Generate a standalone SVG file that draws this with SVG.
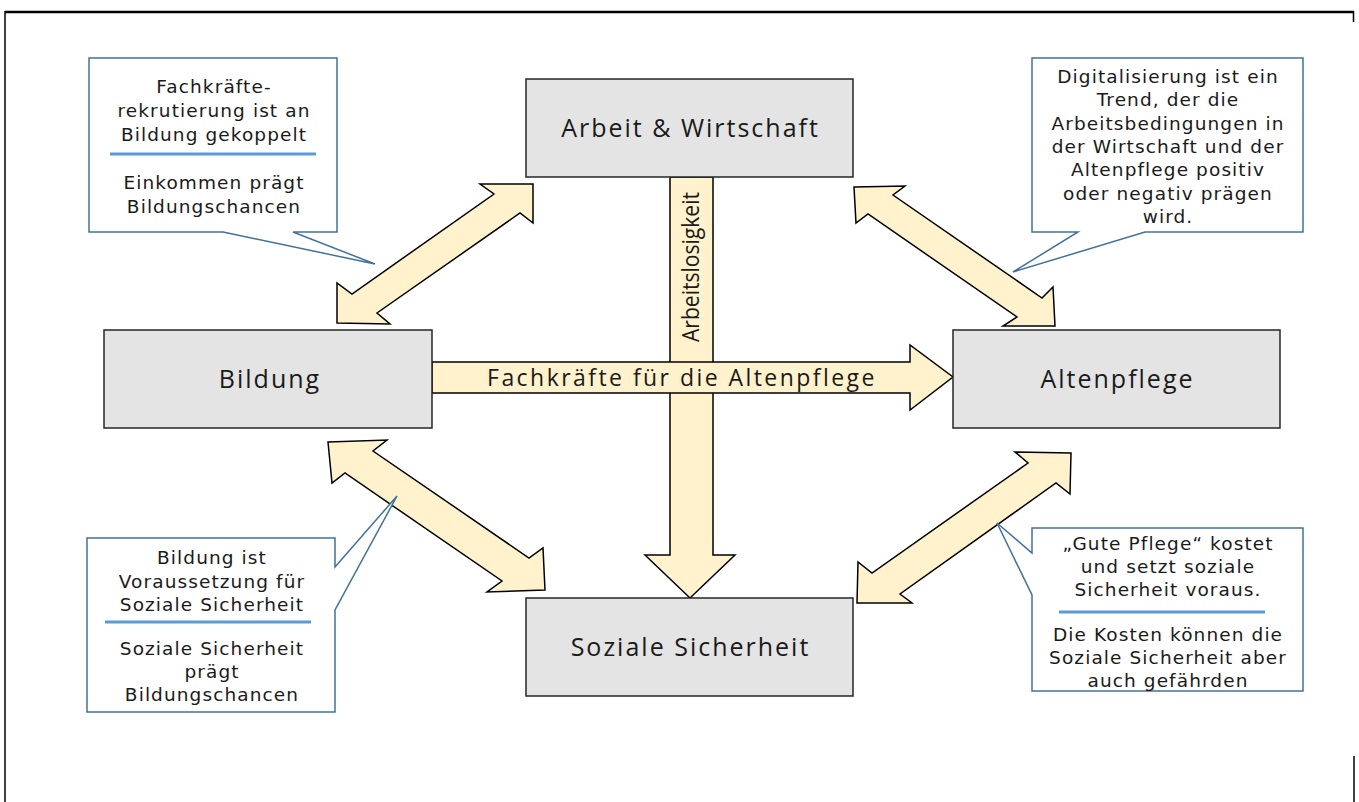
<svg xmlns="http://www.w3.org/2000/svg" width="1359" height="802" viewBox="0 0 1359 802">
<style>
.node rect{fill:#e4e4e4;stroke:#262626;stroke-width:1.5}
.node text{font-family:"Open Sans","Noto Sans",sans-serif;font-size:25px;letter-spacing:2px;fill:#1a1a1a;text-anchor:middle}
.arr{fill:#fff2cc;stroke:#000;stroke-width:1.5;stroke-linejoin:miter}
.lbl{font-family:"Open Sans","Noto Sans",sans-serif;fill:#1a1a1a;text-anchor:middle}
.call path{fill:#fff;stroke:#41719c;stroke-width:1.5}
.call text{font-family:"DejaVu Sans","Open Sans",sans-serif;font-size:18.5px;letter-spacing:1.1px;fill:#1a1a1a;text-anchor:middle}
.sep{stroke:#5b9bd5;stroke-width:3}
.frame{stroke:#000;fill:none}
</style>
<rect x="0" y="0" width="1359" height="802" fill="#fff"/>
<g id="frame">
<line class="frame" x1="5" y1="12" x2="1354" y2="12" stroke-width="2.3"/>
<line class="frame" x1="5" y1="11" x2="5" y2="802" stroke-width="1.5"/>
<line class="frame" x1="1353.5" y1="11" x2="1353.5" y2="22" stroke-width="1.5"/>
<line class="frame" x1="1354" y1="756" x2="1354" y2="802" stroke-width="1.5"/>
</g>
<g id="connectors">
<polygon id="arr-arbeitslosigkeit" class="arr" points="670,177 713,177 713,555 735,555 690,598 645,555 670,555"/>
<text class="lbl" font-size="24" transform="translate(699,267) rotate(-90)" textLength="150" lengthAdjust="spacingAndGlyphs">Arbeitslosigkeit</text>
<polygon id="arr-fachkraefte" class="arr" points="432,362 910,362 910,345 953,377 910,410 910,393 432,393"/>
<text class="lbl" font-size="23" letter-spacing="2.45" x="682" y="386">Fachkräfte für die Altenpflege</text>
<polygon id="arr-bildung-arbeit" class="arr" points="337,323 337,283 352,294 494,194 480,184 533,184 533,223 520,213 377,313 390,324"/>
<polygon id="arr-arbeit-alten" class="arr" points="854,187 905,186 893,195 1042,298 1053,287 1055,326 1003,326 1017,317 868,214 856,223"/>
<polygon id="arr-bildung-sozial" class="arr" points="328,442 387,440 373,451 529,558 543,548 545,590 487,592 502,581 345,473 332,483"/>
<polygon id="arr-alten-sozial" class="arr" points="1071,453 1070,494 1056,483 900,594 912,603 857,603 858,562 872,573 1028,463 1015,452"/>
</g>
<g id="node-arbeit" class="node"><rect x="526" y="79" width="327" height="98"/><text x="690.5" y="137">Arbeit &amp; Wirtschaft</text></g>
<g id="node-bildung" class="node"><rect x="104" y="330" width="328" height="98"/><text x="270" y="388">Bildung</text></g>
<g id="node-altenpflege" class="node"><rect x="953" y="330" width="327" height="98"/><text x="1117.5" y="388">Altenpflege</text></g>
<g id="node-sozial" class="node"><rect x="526" y="598" width="327" height="98"/><text x="690.5" y="656">Soziale Sicherheit</text></g>
<g id="callout-tl" class="call">
<path d="M89,58 H337 V232 H293 L375,264 L223,232 H89 Z"/>
<text x="214" y="93">Fachkräfte-</text>
<text x="214" y="117">rekrutierung ist an</text>
<text x="214" y="141">Bildung gekoppelt</text>
<line class="sep" x1="110" y1="154" x2="316" y2="154"/>
<text x="214" y="189">Einkommen prägt</text>
<text x="214" y="213">Bildungschancen</text>
</g>
<g id="callout-tr" class="call">
<path d="M1032,58 H1303 V232 H1145 L1013,272 L1078,232 H1032 Z"/>
<text x="1168" y="83">Digitalisierung ist ein</text>
<text x="1168" y="106">Trend, der die</text>
<text x="1168" y="130">Arbeitsbedingungen in</text>
<text x="1168" y="153">der Wirtschaft und der</text>
<text x="1168" y="176">Altenpflege positiv</text>
<text x="1168" y="200">oder negativ prägen</text>
<text x="1168" y="223">wird.</text>
</g>
<g id="callout-bl" class="call">
<path d="M87,538 H335 V567 L397,496 L335,610 V712 H87 Z"/>
<text x="212" y="564">Bildung ist</text>
<text x="212" y="588">Voraussetzung für</text>
<text x="212" y="611">Soziale Sicherheit</text>
<line class="sep" x1="105" y1="622" x2="311" y2="622"/>
<text x="212" y="655">Soziale Sicherheit</text>
<text x="212" y="678">prägt</text>
<text x="212" y="701">Bildungschancen</text>
</g>
<g id="callout-br" class="call">
<path d="M1032,528 H1303 V691 H1032 V595 L997,523 L1032,553 Z"/>
<text x="1168" y="550">„Gute Pflege“ kostet</text>
<text x="1168" y="573">und setzt soziale</text>
<text x="1168" y="596">Sicherheit voraus.</text>
<line class="sep" x1="1059" y1="612" x2="1265" y2="612"/>
<text x="1168" y="641">Die Kosten können die</text>
<text x="1168" y="664">Soziale Sicherheit aber</text>
<text x="1168" y="687">auch gefährden</text>
</g>
</svg>
